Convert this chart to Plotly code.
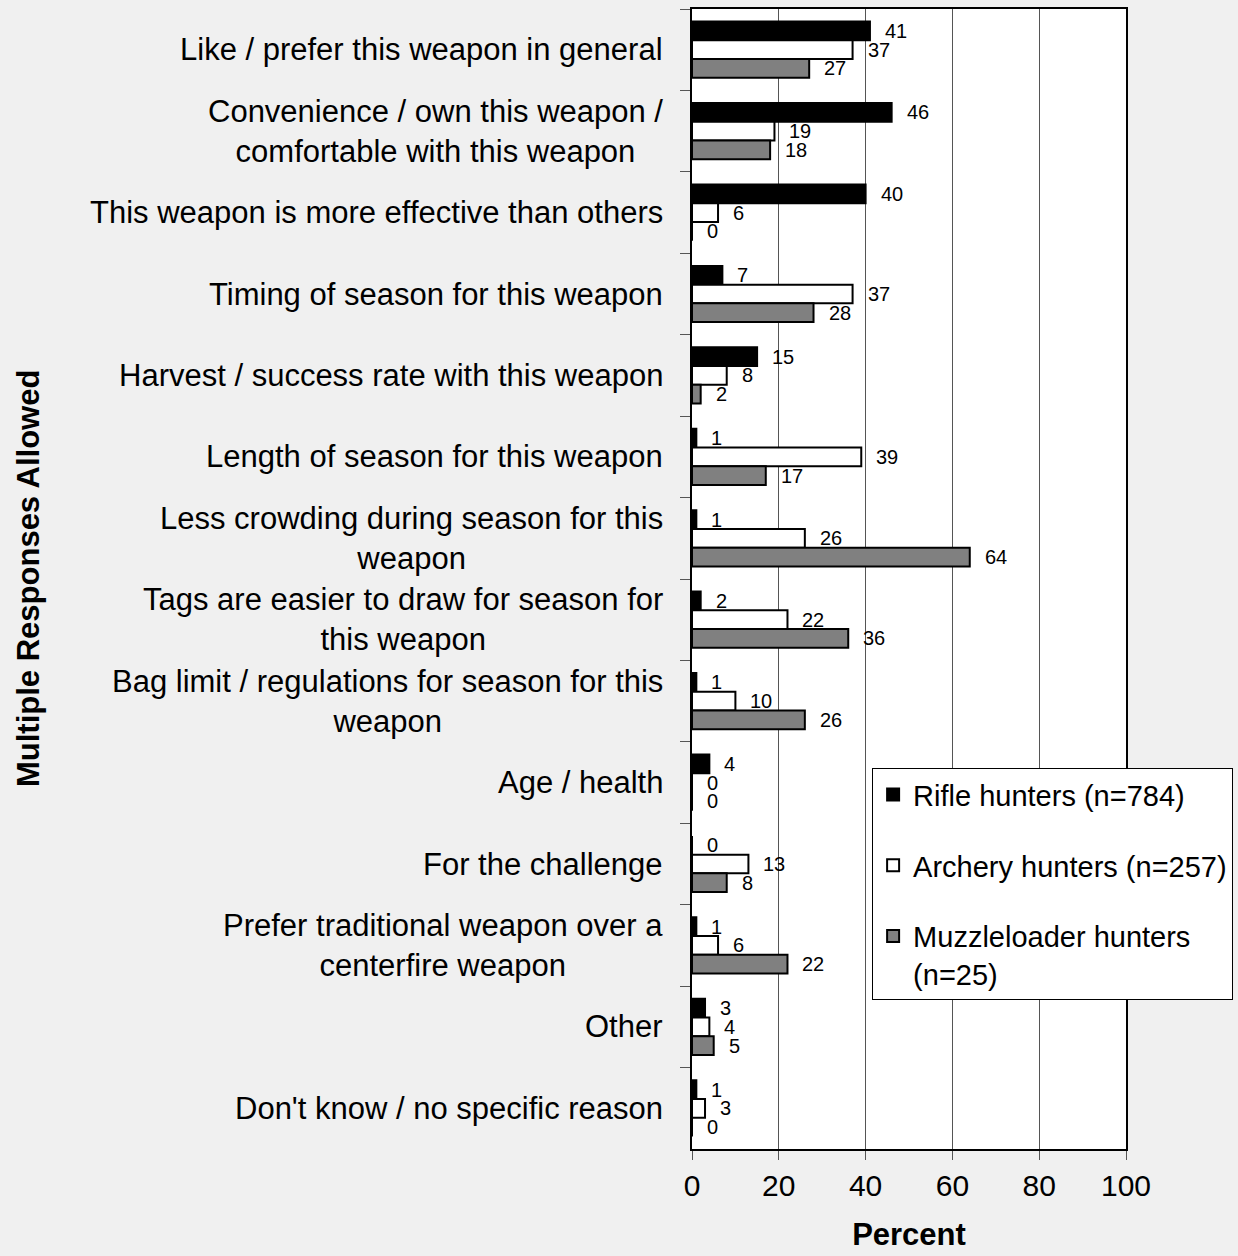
import plotly.graph_objects as go

categories = [
    "Like / prefer this weapon in general",
    "Convenience / own this weapon /<br>comfortable with this weapon",
    "This weapon is more effective than others",
    "Timing of season for this weapon",
    "Harvest / success rate with this weapon",
    "Length of season for this weapon",
    "Less crowding during season for this<br>weapon",
    "Tags are easier to draw for season for<br>this weapon",
    "Bag limit / regulations for season for this<br>weapon",
    "Age / health",
    "For the challenge",
    "Prefer traditional weapon over a<br>centerfire weapon",
    "Other",
    "Don't know / no specific reason",
]
rifle = [41, 46, 40, 7, 15, 1, 1, 2, 1, 4, 0, 1, 3, 1]
archery = [37, 19, 6, 37, 8, 39, 26, 22, 10, 0, 13, 6, 4, 3]
muzzle = [27, 18, 0, 28, 2, 17, 64, 36, 26, 0, 8, 22, 5, 0]

series_names = ["Rifle hunters (n=784)", "Archery hunters (n=257)",
                "Muzzleloader hunters<br>(n=25)"]
series_values = [rifle, archery, muzzle]
colors = ["#000000", "#ffffff", "#808080"]

x_ticks = [0, 20, 40, 60, 80, 100]

FONT = "Arial, Liberation Sans, sans-serif"
W, H = 1238, 1256
M_L, M_R, M_T, M_B = 692, 112, 9, 107
BARGAP = 0.31

fig = go.Figure()
for name, vals, col in zip(series_names, series_values, colors):
    fig.add_trace(go.Bar(
        y=categories, x=vals, name=name, orientation="h",
        marker=dict(color=col, line=dict(color="#000000", width=2)),
        legendgroup=name,
    ))

# bar thickness in px, used to place the value labels next to each bar
plot_h = H - M_T - M_B
slot = plot_h / len(categories)
bar_px = slot * (1 - BARGAP) / len(series_values)

annotations = []
for k, vals in enumerate(series_values):
    shift = (1 - k) * bar_px
    for cat, v in zip(categories, vals):
        annotations.append(dict(
            x=v, y=cat, xref="x", yref="y", text=str(v), showarrow=False,
            xanchor="left", xshift=13, yshift=shift,
            font=dict(size=20, color="#000000", family=FONT),
        ))

for cat in categories:
    annotations.append(dict(
        x=0, y=cat, xref="paper", yref="y", text=cat, showarrow=False,
        xanchor="right", xshift=-27, align="center",
        font=dict(size=31, color="#000000", family=FONT),
    ))

annotations.append(dict(
    x=0, y=0.5, xref="paper", yref="paper", text="<b>Multiple Responses Allowed</b>",
    showarrow=False, textangle=-90, xanchor="center", xshift=-664,
    font=dict(size=31, color="#000000", family=FONT),
))

fig.update_layout(
    width=W, height=H,
    margin=dict(l=M_L, r=M_R, t=M_T, b=M_B, autoexpand=False),
    paper_bgcolor="#f0f0f0", plot_bgcolor="#ffffff",
    barmode="group", bargap=BARGAP, bargroupgap=0,
    font=dict(family=FONT, color="#000000"),
    annotations=annotations,
    legend=dict(
        x=0.415, y=0.334, xanchor="left", yanchor="top",
        bgcolor="#ffffff", bordercolor="#000000", borderwidth=1,
        font=dict(size=29, family=FONT, color="#000000"),
        tracegroupgap=30, traceorder="grouped", valign="top",
    ),
    xaxis=dict(
        range=[0, 100], tickvals=x_ticks, ticks="outside", ticklen=9,
        tickcolor="#555555", tickfont=dict(size=30, family=FONT),
        showgrid=True, gridcolor="#555555", gridwidth=1,
        showline=True, linecolor="#000000", linewidth=2, mirror=True,
        zeroline=False, fixedrange=True,
        title=dict(text="<b>Percent</b>", font=dict(size=31, family=FONT), standoff=22),
    ),
    yaxis=dict(
        categoryorder="array", categoryarray=categories, autorange="reversed",
        showticklabels=False, ticks="outside", tickson="boundaries", ticklen=10,
        tickcolor="#555555", showgrid=False,
        showline=True, linecolor="#000000", linewidth=2, mirror=True,
    ),
)

fig.write_html("out.html", config={"displayModeBar": False},
               post_script="document.body.style.margin='0';")
